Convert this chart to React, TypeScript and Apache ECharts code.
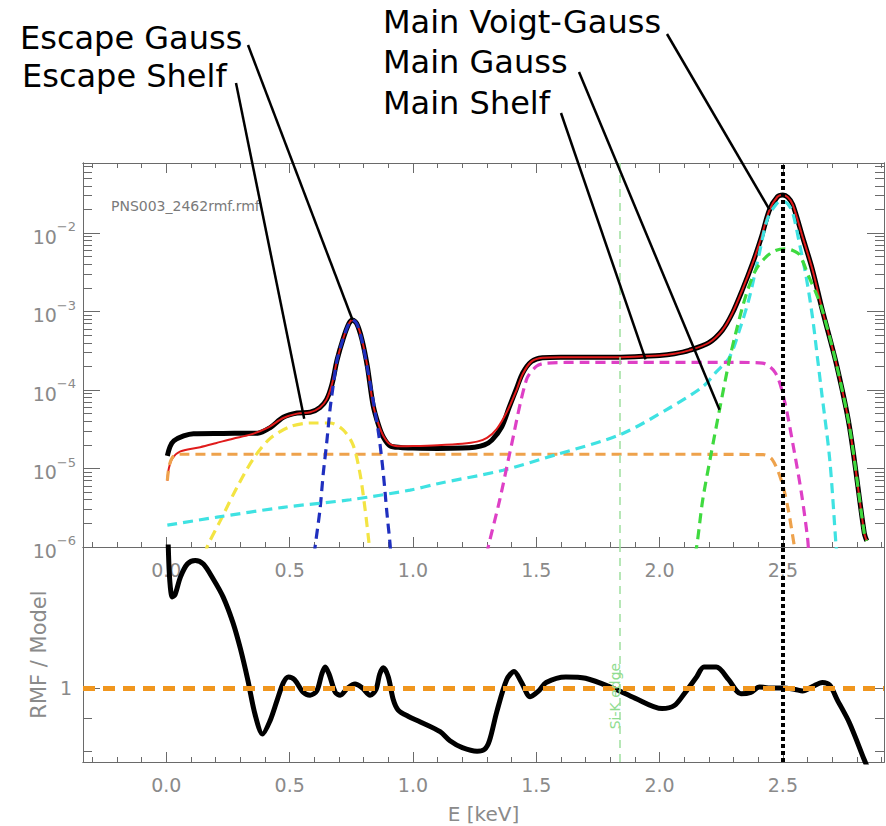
import { useEffect, useRef } from "react";
import * as echarts from "echarts";

// ---- tick values ----
const energyMajorTicks = [0, 0.5, 1.0, 1.5, 2.0, 2.5];
const energyMinorTicks = [
  -0.3, -0.2, -0.1, 0, 0.1, 0.2, 0.3, 0.4, 0.5, 0.6, 0.7, 0.8, 0.9, 1.0, 1.1, 1.2, 1.3, 1.4,
  1.5, 1.6, 1.7, 1.8, 1.9, 2.0, 2.1, 2.2, 2.3, 2.4, 2.5, 2.6, 2.7, 2.8, 2.9,
];
const decadeTicks = [1e-6, 1e-5, 1e-4, 1e-3, 1e-2];
const decadeMinorTicks = [
  2e-6, 3e-6, 4e-6, 5e-6, 6e-6, 7e-6, 8e-6, 9e-6,
  2e-5, 3e-5, 4e-5, 5e-5, 6e-5, 7e-5, 8e-5, 9e-5,
  2e-4, 3e-4, 4e-4, 5e-4, 6e-4, 7e-4, 8e-4, 9e-4,
  2e-3, 3e-3, 4e-3, 5e-3, 6e-3, 7e-3, 8e-3, 9e-3,
  2e-2, 3e-2, 4e-2, 5e-2, 6e-2, 7e-2,
];
const ratioMajorTicks = [1];
const ratioMinorTicks = [0.8, 0.9];

// ---- axis ranges ----
const ENERGY_MIN = -0.338;
const ENERGY_MAX = 2.91;
const FLUX_MIN = 1e-6;
const FLUX_MAX = 0.078;
const RATIO_MIN = 0.77;
const RATIO_MAX = 1.646;

// ---- reference energies (keV) ----
const siKEdgeEnergy = 1.839;
const lineEnergy = 2.5;

// ---- RMF row and model components: [E keV, value] ----
const rmfSpectrum = [
  [0.004, 1.45e-5], [0.015, 1.9e-5], [0.03, 2.25e-5], [0.07, 2.6e-5], [0.11, 2.78e-5],
  [0.23, 2.8e-5], [0.37, 2.82e-5], [0.42, 3.3e-5], [0.474, 4.5e-5], [0.53, 5.1e-5],
  [0.583, 5.2e-5], [0.623, 6.0e-5], [0.65, 7.6e-5], [0.672, 1.2e-4], [0.692, 2.4e-4],
  [0.717, 4.5e-4], [0.74, 7.0e-4], [0.755, 7.8e-4], [0.772, 7.0e-4], [0.793, 4.4e-4],
  [0.815, 2.0e-4], [0.838, 6.5e-5], [0.86, 3.6e-5], [0.88, 2.5e-5], [0.907, 1.95e-5],
  [0.95, 1.85e-5], [1.0, 1.82e-5], [1.1, 1.8e-5], [1.2, 1.82e-5], [1.25, 1.87e-5],
  [1.29, 2.0e-5], [1.32, 2.3e-5], [1.36, 3.4e-5], [1.39, 6.0e-5], [1.42, 1.05e-4],
  [1.445, 1.65e-4], [1.48, 2.3e-4], [1.525, 2.58e-4], [1.6, 2.62e-4], [1.8, 2.62e-4],
  [1.9, 2.66e-4], [2.0, 2.75e-4], [2.06, 2.9e-4], [2.12, 3.2e-4], [2.2, 4.0e-4],
  [2.255, 5.8e-4], [2.295, 9.5e-4], [2.336, 1.9e-3], [2.377, 4.1e-3], [2.413, 8.9e-3],
  [2.445, 1.95e-2], [2.478, 2.9e-2], [2.5, 3.05e-2], [2.52, 2.85e-2], [2.54, 2.3e-2],
  [2.58, 8.9e-3], [2.62, 3.4e-3], [2.66, 1.04e-3], [2.716, 2.2e-4], [2.77, 3.4e-5],
  [2.83, 1.5e-6], [2.84, 1.2e-6],
];

const modelTotal = [
  [0.004, 7e-6], [0.01, 1.0e-5], [0.025, 1.35e-5], [0.057, 1.65e-5], [0.137, 1.87e-5],
  [0.2, 2.1e-5], [0.27, 2.4e-5], [0.34, 2.7e-5], [0.41, 3.3e-5], [0.474, 4.4e-5],
  [0.53, 5.0e-5], [0.583, 5.2e-5], [0.623, 6.0e-5], [0.65, 7.6e-5], [0.672, 1.2e-4],
  [0.692, 2.4e-4], [0.717, 4.5e-4], [0.74, 7.0e-4], [0.755, 7.8e-4], [0.772, 7.0e-4],
  [0.793, 4.4e-4], [0.815, 2.0e-4], [0.838, 6.6e-5], [0.86, 3.7e-5], [0.88, 2.6e-5],
  [0.907, 2.05e-5], [0.95, 1.92e-5], [1.0, 1.93e-5], [1.1, 1.98e-5], [1.2, 2.07e-5],
  [1.26, 2.2e-5], [1.3, 2.45e-5], [1.34, 3.2e-5], [1.38, 5.2e-5], [1.42, 1.0e-4],
  [1.445, 1.6e-4], [1.48, 2.3e-4], [1.525, 2.58e-4], [1.6, 2.62e-4], [1.8, 2.62e-4],
  [1.9, 2.66e-4], [2.0, 2.75e-4], [2.06, 2.9e-4], [2.12, 3.2e-4], [2.2, 4.0e-4],
  [2.255, 5.8e-4], [2.295, 9.5e-4], [2.336, 1.9e-3], [2.377, 4.1e-3], [2.413, 8.9e-3],
  [2.445, 1.95e-2], [2.478, 2.9e-2], [2.5, 3.05e-2], [2.52, 2.85e-2], [2.54, 2.3e-2],
  [2.58, 8.9e-3], [2.62, 3.4e-3], [2.66, 1.04e-3], [2.716, 2.2e-4], [2.77, 3.4e-5],
  [2.83, 1.5e-6], [2.84, 1.2e-6],
];

const flatShelf = [
  [0.004, 7e-6], [0.012, 1.1e-5], [0.03, 1.45e-5], [0.06, 1.52e-5], [0.5, 1.52e-5],
  [1.0, 1.52e-5], [1.5, 1.52e-5], [2.0, 1.52e-5], [2.42, 1.5e-5], [2.457, 1.3e-5],
  [2.494, 7e-6], [2.52, 3.2e-6], [2.547, 1.0e-6], [2.555, 7e-7],
];

const escapeShelf = [
  [0.16, 8e-7], [0.165, 1e-6], [0.22, 2.2e-6], [0.287, 5.8e-6], [0.354, 1.35e-5],
  [0.42, 2.4e-5], [0.5, 3.4e-5], [0.583, 3.8e-5], [0.664, 3.8e-5], [0.717, 3.1e-5],
  [0.757, 2.0e-5], [0.785, 8.7e-6], [0.806, 3e-6], [0.822, 1.1e-6], [0.826, 8e-7],
];

const escapeGauss = [
  [0.6, 8e-7], [0.603, 1e-6], [0.623, 3e-6], [0.636, 8.5e-6], [0.65, 2.1e-5],
  [0.664, 5.8e-5], [0.675, 1.05e-4], [0.692, 2.4e-4], [0.717, 4.5e-4], [0.74, 7.0e-4],
  [0.755, 7.8e-4], [0.772, 7.0e-4], [0.793, 4.3e-4], [0.815, 1.9e-4], [0.838, 7.5e-5],
  [0.862, 2.6e-5], [0.88, 8.5e-6], [0.894, 2.8e-6], [0.907, 1.1e-6], [0.91, 8e-7],
];

const mainVoigt = [
  [0.004, 1.9e-6], [0.206, 2.4e-6], [0.474, 3.2e-6], [0.745, 4.0e-6], [0.988, 5.3e-6],
  [1.1, 6.4e-6], [1.365, 9.5e-6], [1.58, 1.5e-5], [1.84, 2.7e-5], [2.04, 5.9e-5],
  [2.175, 1.1e-4], [2.23, 1.7e-4], [2.283, 2.6e-4], [2.324, 5.8e-4], [2.364, 1.5e-3],
  [2.405, 5.6e-3], [2.437, 1.5e-2], [2.474, 2.35e-2], [2.498, 2.55e-2], [2.52, 2.35e-2],
  [2.54, 1.8e-2], [2.567, 7.4e-3], [2.595, 2.7e-3], [2.62, 8.5e-4], [2.64, 2.6e-4],
  [2.656, 1.0e-4], [2.69, 1.3e-5], [2.716, 1.0e-6], [2.72, 7e-7],
];

const mainShelf = [
  [1.3, 8e-7], [1.305, 1e-6], [1.352, 4e-6], [1.393, 1.6e-5], [1.46, 1.35e-4],
  [1.5, 2.0e-4], [1.54, 2.2e-4], [1.7, 2.25e-4], [2.0, 2.25e-4], [2.3, 2.25e-4],
  [2.417, 2.2e-4], [2.47, 1.65e-4], [2.506, 7.4e-5], [2.54, 2.1e-5], [2.575, 4.9e-6],
  [2.6, 1.3e-6], [2.605, 8e-7],
];

const mainGauss = [
  [2.14, 8e-7], [2.15, 1e-6], [2.175, 4e-6], [2.21, 1.6e-5], [2.243, 5.6e-5],
  [2.283, 2.4e-4], [2.31, 5.5e-4], [2.35, 1.6e-3], [2.39, 3.4e-3], [2.43, 4.9e-3],
  [2.47, 6.0e-3], [2.51, 6.3e-3], [2.54, 6.0e-3], [2.567, 5.3e-3], [2.607, 2.7e-3],
  [2.635, 1.7e-3], [2.66, 1.04e-3], [2.716, 2.2e-4], [2.77, 3.4e-5], [2.83, 1.5e-6],
  [2.84, 1.2e-6],
];

// RMF row divided by the model
const rmfRatio = [
  [0.004, 1.9], [0.012, 1.5], [0.024, 1.38], [0.035, 1.39], [0.057, 1.48], [0.085, 1.55],
  [0.117, 1.57], [0.15, 1.55], [0.19, 1.47], [0.23, 1.38], [0.27, 1.26], [0.3, 1.15],
  [0.33, 1.03], [0.36, 0.91], [0.39, 0.85], [0.42, 0.89], [0.45, 0.96], [0.475, 1.02],
  [0.495, 1.04], [0.52, 1.03], [0.555, 0.985], [0.583, 0.975], [0.61, 0.99], [0.63, 1.05],
  [0.644, 1.077], [0.66, 1.05], [0.685, 0.985], [0.705, 0.975], [0.735, 1.0], [0.765, 1.014],
  [0.795, 1.0], [0.826, 0.975], [0.85, 0.995], [0.865, 1.05], [0.88, 1.074], [0.9, 1.04],
  [0.92, 0.96], [0.94, 0.925], [0.98, 0.905], [1.03, 0.887], [1.11, 0.857], [1.15, 0.83],
  [1.2, 0.81], [1.26, 0.8], [1.29, 0.805], [1.31, 0.83], [1.34, 0.92], [1.38, 1.03],
  [1.41, 1.06], [1.44, 1.02], [1.475, 0.97], [1.51, 0.99], [1.54, 1.02], [1.62, 1.04],
  [1.7, 1.035], [1.81, 1.0], [1.9, 0.965], [2.01, 0.93], [2.06, 0.94], [2.1, 0.98],
  [2.15, 1.04], [2.18, 1.077], [2.23, 1.077], [2.28, 1.03], [2.33, 0.98], [2.37, 0.985],
  [2.405, 1.004], [2.45, 1.0], [2.5, 1.0], [2.55, 0.995], [2.58, 0.99], [2.62, 1.005],
  [2.66, 1.02], [2.69, 1.01], [2.72, 0.96], [2.77, 0.884], [2.83, 0.776], [2.84, 0.76],
];

// component labels and the point on the curve each one points at
const annotationLabels = ["Escape Gauss", "Escape Shelf", "Main Voigt-Gauss", "Main Gauss", "Main Shelf"];
const annotationTargets = [
  [0.755, 7.8e-4],
  [0.559, 4.3e-5],
  [2.445, 2.0e-2],
  [2.243, 5.6e-5],
  [1.943, 2.45e-4],
];

const FONT = "DejaVu Sans";
const AXIS_GRAY = "#6a6a6a";
const LABEL_GRAY = "#8a8a8a";

const GRID_LEFT = 83;
const GRID_WIDTH = 801;
const TOP_GRID = { top: 163, height: 384 };
const BOTTOM_GRID = { top: 547, height: 215 };

// text placement: [left x, middle y], leader start [x, y]
const annotationLayout = [
  { x: 20, y: 38, from: [248, 45] },
  { x: 22, y: 76, from: [236, 83] },
  { x: 383, y: 22, from: [667, 34] },
  { x: 383, y: 62, from: [579, 72] },
  { x: 383, y: 103, from: [561, 113] },
];

function xAxisOf(gridIndex: number, position: string, ticks: number[], length: number, labels: boolean, extra: any = {}) {
  return {
    type: "value",
    gridIndex,
    position,
    min: ENERGY_MIN,
    max: ENERGY_MAX,
    axisLine: { show: true, onZero: false, lineStyle: { color: AXIS_GRAY, width: 1 } },
    axisTick: { show: true, inside: true, length, customValues: ticks, lineStyle: { color: AXIS_GRAY, width: 1 } },
    axisLabel: labels
      ? {
          show: true,
          customValues: ticks,
          margin: 13,
          color: LABEL_GRAY,
          fontSize: 19,
          fontFamily: FONT,
          formatter: (v: number) => v.toFixed(1),
        }
      : { show: false },
    splitLine: { show: false },
    minorTick: { show: false },
    ...extra,
  };
}

function yAxisOf(
  gridIndex: number,
  position: string,
  min: number,
  max: number,
  ticks: number[],
  length: number,
  label: any,
  extra: any = {}
) {
  return {
    type: "log",
    logBase: 10,
    gridIndex,
    position,
    min,
    max,
    axisLine: { show: true, onZero: false, lineStyle: { color: AXIS_GRAY, width: 1 } },
    axisTick: { show: true, inside: true, length, customValues: ticks, lineStyle: { color: AXIS_GRAY, width: 1 } },
    axisLabel: label ? { show: true, customValues: ticks, ...label } : { show: false },
    splitLine: { show: false },
    minorTick: { show: false },
    ...extra,
  };
}

const decadeLabel = {
  margin: 7,
  color: LABEL_GRAY,
  fontFamily: FONT,
  formatter: (v: number) => `{b|10}{s|\u2212${-Math.round(Math.log10(v))}}`,
  rich: {
    b: { fontSize: 19, fontFamily: FONT, color: LABEL_GRAY, lineHeight: 26, verticalAlign: "bottom" },
    s: { fontSize: 13, fontFamily: FONT, color: LABEL_GRAY, lineHeight: 26, verticalAlign: "top" },
  },
};

const ratioLabel = {
  margin: 11,
  color: LABEL_GRAY,
  fontSize: 19,
  fontFamily: FONT,
  formatter: (v: number) => String(Math.round(v)),
};

function dashedComponent(name: string, data: number[][], color: string) {
  return {
    name,
    type: "line",
    xAxisIndex: 0,
    yAxisIndex: 0,
    data,
    smooth: 0.3,
    showSymbol: false,
    symbol: "none",
    clip: true,
    lineStyle: { color, width: 3.2, type: [10, 6] },
    z: 4,
  };
}

const siEdgeLine = {
  xAxis: siKEdgeEnergy,
  lineStyle: { color: "#9fe09f", width: 1.5, type: [8, 6] },
};
const centroidLine = {
  xAxis: lineEnergy,
  lineStyle: { color: "#000", width: 4, type: [4, 3] },
};

function markLineOf(items: any[]) {
  return { silent: true, symbol: "none", label: { show: false }, animation: false, data: items };
}

const option: any = {
  animation: false,
  backgroundColor: "#ffffff",
  grid: [
    { left: GRID_LEFT, width: GRID_WIDTH, top: TOP_GRID.top, height: TOP_GRID.height },
    { left: GRID_LEFT, width: GRID_WIDTH, top: BOTTOM_GRID.top, height: BOTTOM_GRID.height },
  ],
  xAxis: [
    xAxisOf(0, "bottom", energyMajorTicks, 10, true),
    xAxisOf(0, "bottom", energyMinorTicks, 5, false),
    xAxisOf(0, "top", energyMajorTicks, 10, false),
    xAxisOf(0, "top", energyMinorTicks, 5, false),
    xAxisOf(1, "bottom", energyMajorTicks, 10, true, {
      name: "E [keV]",
      nameLocation: "middle",
      nameGap: 42,
      nameTextStyle: { color: LABEL_GRAY, fontSize: 20, fontFamily: FONT },
    }),
    xAxisOf(1, "bottom", energyMinorTicks, 5, false),
  ],
  yAxis: [
    yAxisOf(0, "left", FLUX_MIN, FLUX_MAX, decadeTicks, 17, decadeLabel),
    yAxisOf(0, "left", FLUX_MIN, FLUX_MAX, decadeMinorTicks, 9, null),
    yAxisOf(0, "right", FLUX_MIN, FLUX_MAX, decadeTicks, 17, null),
    yAxisOf(0, "right", FLUX_MIN, FLUX_MAX, decadeMinorTicks, 9, null),
    yAxisOf(1, "left", RATIO_MIN, RATIO_MAX, ratioMajorTicks, 17, ratioLabel, {
      name: "RMF / Model",
      nameLocation: "middle",
      nameGap: 33,
      nameRotate: 90,
      nameTextStyle: { color: LABEL_GRAY, fontSize: 21, fontFamily: FONT },
    }),
    yAxisOf(1, "left", RATIO_MIN, RATIO_MAX, ratioMinorTicks, 9, null),
    yAxisOf(1, "right", RATIO_MIN, RATIO_MAX, ratioMajorTicks, 17, null),
    yAxisOf(1, "right", RATIO_MIN, RATIO_MAX, ratioMinorTicks, 9, null),
  ],
  series: [
    {
      name: "RMF",
      type: "line",
      xAxisIndex: 0,
      yAxisIndex: 0,
      data: rmfSpectrum,
      smooth: 0.3,
      showSymbol: false,
      symbol: "none",
      lineStyle: { color: "#000", width: 5 },
      z: 2,
      markLine: markLineOf([siEdgeLine]),
    },
    {
      name: "Model",
      type: "line",
      xAxisIndex: 0,
      yAxisIndex: 0,
      data: modelTotal,
      smooth: 0.3,
      showSymbol: false,
      symbol: "none",
      lineStyle: { color: "#e01b1b", width: 2 },
      z: 3,
    },
    dashedComponent("Flat shelf", flatShelf, "#eea24c"),
    dashedComponent("Escape shelf", escapeShelf, "#f3e443"),
    dashedComponent("Escape Gauss", escapeGauss, "#1f2fbf"),
    dashedComponent("Main Voigt", mainVoigt, "#3fe2e2"),
    dashedComponent("Main shelf", mainShelf, "#de40c6"),
    dashedComponent("Main Gauss", mainGauss, "#3fda3f"),
    {
      name: "Line energy",
      type: "line",
      xAxisIndex: 0,
      yAxisIndex: 0,
      data: [],
      z: 6,
      markLine: markLineOf([centroidLine]),
    },
    {
      name: "Si edge",
      type: "line",
      xAxisIndex: 4,
      yAxisIndex: 4,
      data: [],
      z: 1,
      markLine: markLineOf([siEdgeLine]),
    },
    {
      name: "RMF / Model",
      type: "line",
      xAxisIndex: 4,
      yAxisIndex: 4,
      data: rmfRatio,
      smooth: 0.3,
      showSymbol: false,
      symbol: "none",
      clip: true,
      lineStyle: { color: "#000", width: 5 },
      z: 3,
    },
    {
      name: "Ratio one",
      type: "line",
      xAxisIndex: 4,
      yAxisIndex: 4,
      data: [],
      z: 5,
      markLine: markLineOf([
        { yAxis: 1, lineStyle: { color: "#f0961e", width: 5, type: [12, 8] } },
        centroidLine,
      ]),
    },
  ],
};

export default function App() {
  const ref = useRef<HTMLDivElement>(null);

  useEffect(() => {
    const el = ref.current;
    if (!el) return;
    const chart = echarts.init(el, undefined, { renderer: "svg" });
    chart.setOption(option);

    const topPx = (p: number[]) => chart.convertToPixel({ xAxisIndex: 0, yAxisIndex: 0 }, p) as number[];
    const bottomPx = (p: number[]) => chart.convertToPixel({ xAxisIndex: 4, yAxisIndex: 4 }, p) as number[];

    const graphics: any[] = [
      {
        type: "text",
        left: 111,
        top: 199,
        style: { text: "PNS003_2462rmf.rmf", fill: "#7a7a7a", font: `14px "${FONT}"` },
        z: 10,
      },
    ];

    annotationLabels.forEach((label, i) => {
      const lay = annotationLayout[i];
      const to = topPx(annotationTargets[i]);
      graphics.push({
        type: "text",
        x: lay.x,
        y: lay.y,
        style: { text: label, fill: "#000", font: `32px "${FONT}"`, align: "left", verticalAlign: "middle" },
        z: 10,
      });
      graphics.push({
        type: "line",
        shape: { x1: lay.from[0], y1: lay.from[1], x2: to[0], y2: to[1] },
        style: { stroke: "#000", lineWidth: 2.5 },
        z: 10,
      });
    });

    const edgeLabelAt = bottomPx([siKEdgeEnergy, 0.972]);
    graphics.push({
      type: "text",
      x: edgeLabelAt[0] - 5,
      y: edgeLabelAt[1],
      rotation: Math.PI / 2,
      style: { text: "Si-K edge", fill: "#8fdc8f", font: `14px "${FONT}"`, align: "center", verticalAlign: "middle" },
      z: 10,
    });

    chart.setOption({ graphic: graphics });
    return () => chart.dispose();
  }, []);

  return (
    <div
      ref={ref}
      style={{ position: "absolute", left: 0, top: 0, width: 886, height: 826, background: "#fff" }}
    />
  );
}
